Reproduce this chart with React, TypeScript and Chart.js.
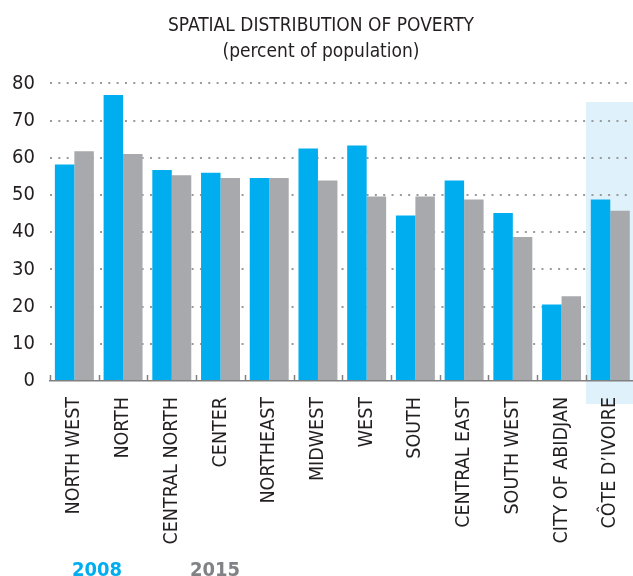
import React, { useEffect, useRef } from "react";
import { Chart, registerables } from "chart.js";

Chart.register(...registerables);

const categories = [
  "NORTH WEST", "NORTH", "CENTRAL NORTH", "CENTER", "NORTHEAST", "MIDWEST",
  "WEST", "SOUTH", "CENTRAL EAST", "SOUTH WEST", "CITY OF ABIDJAN", "CÔTE D’IVOIRE",
];
const values2008 = [58.2, 76.9, 56.7, 56.0, 54.6, 62.5, 63.3, 44.5, 53.9, 45.2, 20.6, 48.8];
const values2015 = [61.8, 61.0, 55.3, 54.6, 54.6, 53.9, 49.6, 49.6, 48.8, 38.7, 22.8, 45.8];
const seriesLabels = ["2008", "2015"];
const seriesColors = ["#00aeef", "#a7a9ac"];
const legendColors = ["#00aeef", "#808285"];
const titleLines = ["SPATIAL DISTRIBUTION OF POVERTY", "(percent of population)"];
const yTicks = [0, 10, 20, 30, 40, 50, 60, 70, 80];
const highlightIndex = 11;
const highlightTop = 75;

const FONT = "'Liberation Sans Narrow', 'DejaVu Sans Condensed', 'Roboto', sans-serif";

const decorPlugin = {
  id: "decor",
  beforeDraw(chart: any) {
    const { ctx, scales } = chart;
    const x = scales.x;
    const y = scales.y;
    const w = (x.right - x.left) / categories.length;
    const left = x.left + w * highlightIndex;
    const top = y.getPixelForValue(highlightTop);
    const bottom = y.bottom + 23;
    ctx.save();
    ctx.fillStyle = "#dff1fa";
    ctx.fillRect(left, top, w, bottom - top);
    ctx.restore();
  },
  afterDatasetsDraw(chart: any) {
    const { ctx, scales } = chart;
    const x = scales.x;
    const y = scales.y;
    const w = (x.right - x.left) / categories.length;
    ctx.save();
    ctx.strokeStyle = "#808080";
    ctx.lineWidth = 1.5;
    for (let i = 0; i <= categories.length; i++) {
      const px = Math.round(x.left + w * i) + 0.5;
      ctx.beginPath();
      ctx.moveTo(px, y.bottom);
      ctx.lineTo(px, y.bottom - 6);
      ctx.stroke();
    }
    ctx.restore();
  },
};

export default function App() {
  const ref = useRef<HTMLCanvasElement>(null);
  useEffect(() => {
    document.body.style.margin = "0";
    document.body.style.overflow = "hidden";
    const canvas = ref.current!;
    const chart = new Chart(canvas, {
      type: "bar",
      data: {
        labels: categories,
        datasets: [
          { label: seriesLabels[0], data: values2008, backgroundColor: seriesColors[0], borderWidth: 0 },
          { label: seriesLabels[1], data: values2015, backgroundColor: seriesColors[1], borderWidth: 0 },
        ],
      },
      options: {
        responsive: false,
        animation: false,
        devicePixelRatio: 1,
        layout: { padding: { left: 0, right: 8, top: 0, bottom: 0 } },
        datasets: { bar: { categoryPercentage: 0.8, barPercentage: 1.0 } } as any,
        plugins: {
          legend: { display: false },
          tooltip: { enabled: false },
          title: {
            display: true,
            text: titleLines,
            color: "#231f20",
            font: { family: FONT, size: 19, weight: "normal", lineHeight: 1.38 },
            padding: { top: 13, bottom: 18 },
          },
        },
        scales: {
          x: {
            grid: { display: false, drawTicks: false },
            border: { display: true, color: "#808080", width: 1.5 },
            ticks: {
              autoSkip: false,
              maxRotation: 90,
              minRotation: 90,
              padding: 16,
              color: "#231f20",
              font: { family: FONT, size: 19.5 },
            },
            afterFit: (s: any) => { s.height = 195; },
          },
          y: {
            min: 0,
            max: 80,
            afterBuildTicks: (s: any) => { s.ticks = yTicks.map((v) => ({ value: v })); },
            grid: {
              color: (c: any) => (c.tick && c.tick.value === 0 ? "rgba(0,0,0,0)" : "#9a9a9a"),
              lineWidth: 2,
              drawTicks: false,
            },
            border: { display: false, dash: [2, 6.33] },
            ticks: {
              padding: 15,
              color: "#231f20",
              font: { family: FONT, size: 20 },
            },
            afterFit: (s: any) => { s.width = 50; },
          },
        },
      },
      plugins: [decorPlugin],
    });
    return () => chart.destroy();
  }, []);

  return (
    <div style={{ position: "relative", width: 633, height: 576, overflow: "hidden" }}>
      <canvas ref={ref} width={650} height={576} style={{ width: 650, height: 576, display: "block" }} />
      {seriesLabels.map((l, i) => (
        <span
          key={l}
          style={{
            position: "absolute",
            left: i === 0 ? 72 : 190,
            top: 557,
            fontFamily: FONT,
            fontWeight: "bold",
            fontSize: 20,
            color: legendColors[i],
            lineHeight: "24px",
          }}
        >
          {l}
        </span>
      ))}
    </div>
  );
}
